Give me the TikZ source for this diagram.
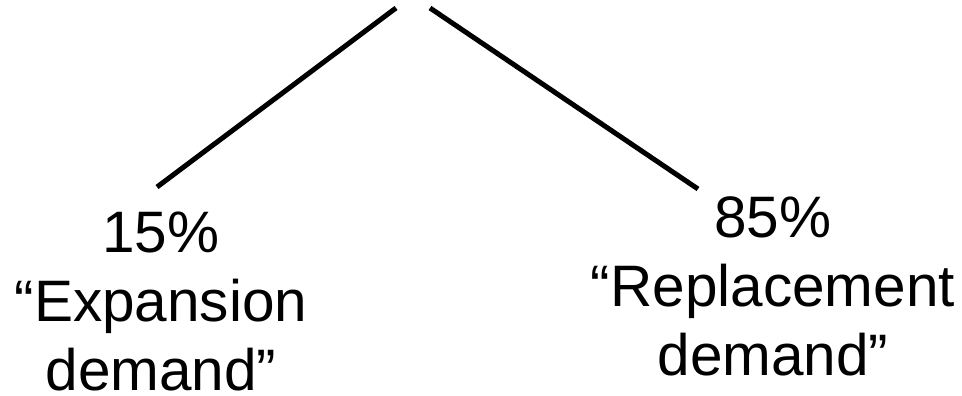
\documentclass[tikz,border=0pt]{standalone}
\usepackage{fontspec}
\setmainfont{Liberation Sans}
\begin{document}
\begin{tikzpicture}[x=1pt,y=-1pt,
  lbl/.style={align=center,inner sep=0pt,anchor=base,font=\fontsize{58.5}{69}\selectfont},
  conn/.style={line width=5pt}]
\useasboundingbox (0,0) rectangle (962,396);
\coordinate (topL) at (396,8);
\coordinate (topR) at (430,8);
\node[lbl] (exp) at (161,390) {15\%\\“Expansion\\demand”};
\node[lbl] (rep) at (773,375) {85\%\\“Replacement\\demand”};
\coordinate (endL) at (157,187);
\coordinate (endR) at (698,189);
\draw[conn] (topL) -- (endL);
\draw[conn] (topR) -- (endR);
\end{tikzpicture}
\end{document}
